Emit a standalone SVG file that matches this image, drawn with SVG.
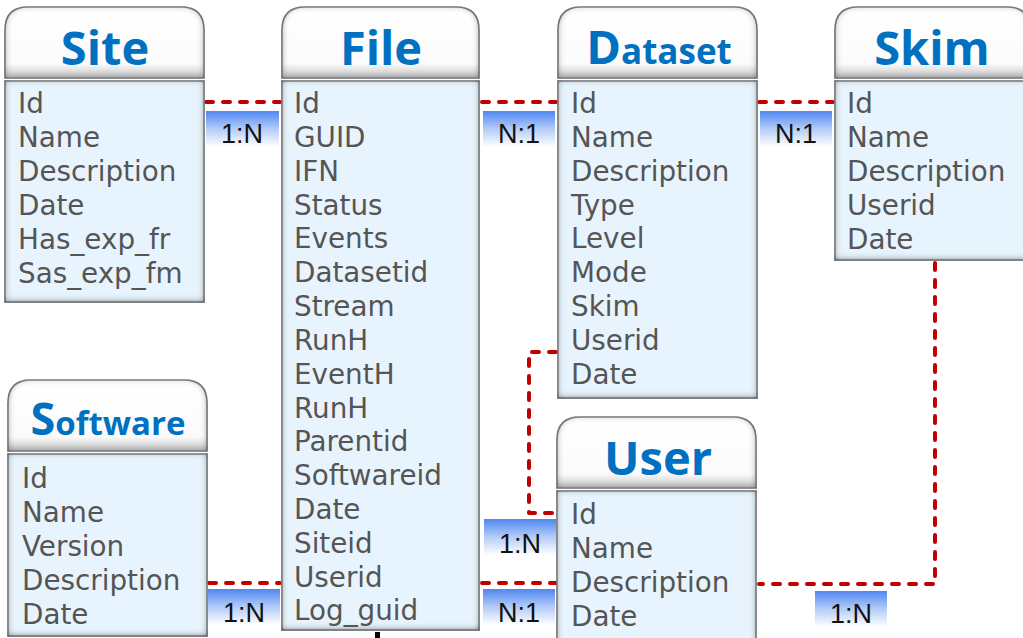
<svg xmlns="http://www.w3.org/2000/svg" width="1023" height="638" viewBox="0 0 1023 638">
  <defs>
    <style>
      .hdr { fill: url(#hdrGrad); stroke: #8a8a8a; stroke-width: 1.5; filter: url(#inset); }
      .body { fill: #E8F4FD; stroke: #8a8a8a; stroke-width: 1.5; filter: url(#inset); }
      .title { font-family: "Open Sans", "DejaVu Sans", sans-serif; font-weight: bold; fill: #0070C0; text-anchor: middle; }
      .row { font-family: "DejaVu Sans", Verdana, sans-serif; font-size: 27.8px; fill: #555555; }
      .link { fill: none; stroke: #C00000; stroke-width: 4; stroke-dasharray: 7 10; stroke-linecap: round; stroke-linejoin: round; }
      .tag { fill: url(#tagGrad); }
      .tagtxt { font-family: "Liberation Sans", Arial, sans-serif; font-size: 27px; fill: #111111; text-anchor: middle; }
    </style>
    <linearGradient id="hdrGrad" x1="0" y1="0" x2="0" y2="1">
      <stop offset="0" stop-color="#ffffff"/>
      <stop offset="0.8" stop-color="#fbfbfb"/>
      <stop offset="1" stop-color="#c4c4c4"/>
    </linearGradient>
    <linearGradient id="tagGrad" x1="0" y1="0" x2="0" y2="1">
      <stop offset="0" stop-color="#4f86f0"/>
      <stop offset="0.45" stop-color="#b4ccf8"/>
      <stop offset="0.9" stop-color="#ffffff"/>
    </linearGradient>
    <!-- soft inner shadow giving the bevelled box edges -->
    <filter id="inset" x="-5%" y="-5%" width="110%" height="110%">
      <feFlood flood-color="#444444"/>
      <feComposite in2="SourceAlpha" operator="out"/>
      <feGaussianBlur stdDeviation="3.5"/>
      <feOffset dy="-1.5"/>
      <feComposite in2="SourceAlpha" operator="in" result="shade"/>
      <feMerge>
        <feMergeNode in="SourceGraphic"/>
        <feMergeNode in="shade"/>
      </feMerge>
    </filter>
  </defs>

  <rect width="1023" height="638" fill="#ffffff"/>

  <!-- relationship lines -->
  <g id="connectors">
    <path class="link" d="M206 102 H280"/>
    <path class="link" d="M482 102 H556"/>
    <path class="link" d="M759 102 H833"/>
    <path class="link" d="M556 352 H529 V513 H556"/>
    <path class="link" d="M482 583 H556"/>
    <path class="link" d="M209 583 H280"/>
    <path class="link" d="M935 263 V584 H759"/>
    <rect x="375" y="632" width="5" height="6" fill="#000000"/>
  </g>

  <!-- cardinality tags -->
  <g id="tags">
    <rect class="tag" x="206" y="111" width="73" height="40"/>
    <text class="tagtxt" x="242" y="143">1:N</text>
    <rect class="tag" x="483" y="111" width="72" height="40"/>
    <text class="tagtxt" x="519" y="143">N:1</text>
    <rect class="tag" x="760" y="111" width="72" height="40"/>
    <text class="tagtxt" x="796" y="143">N:1</text>
    <rect class="tag" x="484" y="519" width="72" height="40"/>
    <text class="tagtxt" x="520" y="553">1:N</text>
    <rect class="tag" x="483" y="589" width="72" height="40"/>
    <text class="tagtxt" x="519" y="622">N:1</text>
    <rect class="tag" x="208" y="589" width="72" height="40"/>
    <text class="tagtxt" x="244" y="622">1:N</text>
    <rect class="tag" x="815" y="591" width="72" height="40"/>
    <text class="tagtxt" x="851" y="623">1:N</text>
  </g>

  <g id="site">
    <path class="hdr" d="M5 78 V30 Q5 7 28 7 H181 Q204 7 204 30 V78 Z"/>
    <rect class="body" x="5" y="81" width="199" height="221"/>
    <text class="title" x="105" y="65" font-size="47">Site</text>
    <text class="row" x="18" y="113">Id</text>
    <text class="row" x="18" y="147">Name</text>
    <text class="row" x="18" y="181">Description</text>
    <text class="row" x="18" y="215">Date</text>
    <text class="row" x="18" y="249">Has_exp_fr</text>
    <text class="row" x="18" y="283">Sas_exp_fm</text>
  </g>

  <g id="file">
    <path class="hdr" d="M282 78 V30 Q282 7 305 7 H456 Q479 7 479 30 V78 Z"/>
    <rect class="body" x="282" y="81" width="197" height="549"/>
    <text class="title" x="381" y="65" font-size="47">File</text>
    <text class="row" x="294" y="113">Id</text>
    <text class="row" x="294" y="147">GUID</text>
    <text class="row" x="294" y="181">IFN</text>
    <text class="row" x="294" y="215">Status</text>
    <text class="row" x="294" y="248">Events</text>
    <text class="row" x="294" y="282">Datasetid</text>
    <text class="row" x="294" y="316">Stream</text>
    <text class="row" x="294" y="350">RunH</text>
    <text class="row" x="294" y="384">EventH</text>
    <text class="row" x="294" y="418">RunH</text>
    <text class="row" x="294" y="451">Parentid</text>
    <text class="row" x="294" y="485">Softwareid</text>
    <text class="row" x="294" y="519">Date</text>
    <text class="row" x="294" y="553">Siteid</text>
    <text class="row" x="294" y="587">Userid</text>
    <text class="row" x="294" y="620">Log_guid</text>
  </g>

  <g id="dataset">
    <path class="hdr" d="M558 78 V30 Q558 7 581 7 H734 Q757 7 757 30 V78 Z"/>
    <rect class="body" x="558" y="81" width="199" height="317"/>
    <text class="title" x="659" y="64"><tspan font-size="47">D</tspan><tspan font-size="35">ataset</tspan></text>
    <text class="row" x="571" y="113">Id</text>
    <text class="row" x="571" y="147">Name</text>
    <text class="row" x="571" y="181">Description</text>
    <text class="row" x="571" y="215">Type</text>
    <text class="row" x="571" y="248">Level</text>
    <text class="row" x="571" y="282">Mode</text>
    <text class="row" x="571" y="316">Skim</text>
    <text class="row" x="571" y="350">Userid</text>
    <text class="row" x="571" y="384">Date</text>
  </g>

  <g id="skim">
    <path class="hdr" d="M835 78 V30 Q835 7 858 7 H1007 Q1030 7 1030 30 V78 Z"/>
    <rect class="body" x="835" y="81" width="195" height="179"/>
    <text class="title" x="932" y="65" font-size="47">Skim</text>
    <text class="row" x="847" y="113">Id</text>
    <text class="row" x="847" y="147">Name</text>
    <text class="row" x="847" y="181">Description</text>
    <text class="row" x="847" y="215">Userid</text>
    <text class="row" x="847" y="249">Date</text>
  </g>

  <g id="software">
    <path class="hdr" d="M8 451 V403 Q8 380 31 380 H184 Q207 380 207 403 V451 Z"/>
    <rect class="body" x="8" y="454" width="199" height="182"/>
    <text class="title" x="108" y="435"><tspan font-size="45">S</tspan><tspan font-size="33">oftware</tspan></text>
    <text class="row" x="22" y="488">Id</text>
    <text class="row" x="22" y="522">Name</text>
    <text class="row" x="22" y="556">Version</text>
    <text class="row" x="22" y="590">Description</text>
    <text class="row" x="22" y="624">Date</text>
  </g>

  <g id="user">
    <path class="hdr" d="M557 488 V440 Q557 417 580 417 H733 Q756 417 756 440 V488 Z"/>
    <rect class="body" x="557" y="491" width="199" height="155"/>
    <text class="title" x="658" y="475" font-size="47">User</text>
    <text class="row" x="571" y="524">Id</text>
    <text class="row" x="571" y="558">Name</text>
    <text class="row" x="571" y="592">Description</text>
    <text class="row" x="571" y="626">Date</text>
  </g>
</svg>
